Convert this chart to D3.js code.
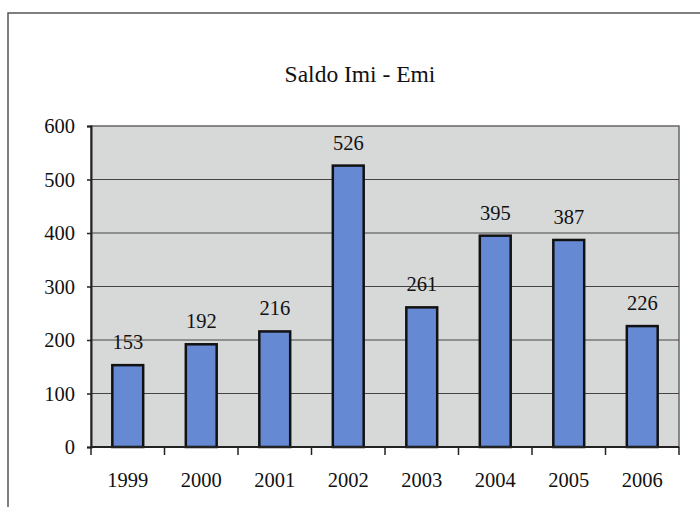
<!DOCTYPE html>
<html>
<head>
<meta charset="utf-8">
<script src="https://cdn.jsdelivr.net/npm/d3@7"></script>
<style>
  body { margin: 0; background: #fff; }
</style>
</head>
<body>
<div class="chart"></div>
<script>
var years = ["1999", "2000", "2001", "2002", "2003", "2004", "2005", "2006"];
var saldo = [153, 192, 216, 526, 261, 395, 387, 226];
var yTicks = [0, 100, 200, 300, 400, 500, 600];

var serif = "'Liberation Serif', 'Times New Roman', Times, serif";

var svgWidth = 700;
var svgHeight = 507;

var margin = { top: 126, right: 21, bottom: 60, left: 91 };
var width = svgWidth - margin.left - margin.right;
var height = svgHeight - margin.top - margin.bottom;

var svg = d3.select(".chart")
  .append("svg")
  .attr("width", svgWidth)
  .attr("height", svgHeight);

// outer frame (top + left edges visible)
svg.append("path")
  .attr("d", "M8,507V13H700")
  .attr("fill", "none")
  .attr("stroke", "#555")
  .attr("stroke-width", 1.5);

svg.append("text")
  .attr("x", 360)
  .attr("y", 82)
  .attr("text-anchor", "middle")
  .attr("font-family", serif)
  .attr("font-size", 23.5)
  .attr("fill", "#111")
  .text("Saldo Imi - Emi");

var chartGroup = svg.append("g")
  .attr("transform", `translate(${margin.left}, ${margin.top})`);

var xScale = d3.scaleBand()
  .domain(years)
  .range([0, width])
  .paddingInner(0.58)
  .paddingOuter(0.29);

var yScale = d3.scaleLinear()
  .domain([0, 600])
  .range([height, 0]);

// plot area
chartGroup.append("rect")
  .attr("width", width)
  .attr("height", height)
  .attr("fill", "#d7d9d9")
  .attr("stroke", "#666")
  .attr("stroke-width", 1.5);

// gridlines
chartGroup.append("g")
  .selectAll("line")
  .data(yTicks.slice(1, -1))
  .enter()
  .append("line")
  .attr("x1", 0)
  .attr("x2", width)
  .attr("y1", d => yScale(d))
  .attr("y2", d => yScale(d))
  .attr("stroke", "#444")
  .attr("stroke-width", 1);

chartGroup.selectAll(".bar")
  .data(saldo)
  .enter()
  .append("rect")
  .classed("bar", true)
  .attr("x", (d, i) => xScale(years[i]))
  .attr("y", d => yScale(d))
  .attr("width", xScale.bandwidth())
  .attr("height", d => height - yScale(d))
  .attr("fill", "#6689d4")
  .attr("stroke", "#111")
  .attr("stroke-width", 2.5);

chartGroup.selectAll(".val")
  .data(saldo)
  .enter()
  .append("text")
  .classed("val", true)
  .attr("x", (d, i) => xScale(years[i]) + xScale.bandwidth() / 2)
  .attr("y", d => yScale(d) - 16)
  .attr("text-anchor", "middle")
  .attr("font-family", serif)
  .attr("font-size", 20.5)
  .attr("fill", "#111")
  .text(d => d);

// y axis
var leftAxis = d3.axisLeft(yScale)
  .tickValues(yTicks)
  .tickSize(4)
  .tickPadding(12);

var yAxis = chartGroup.append("g")
  .call(leftAxis)
  .attr("font-family", serif)
  .attr("font-size", 20.5);
yAxis.select(".domain").attr("stroke", "#222").attr("stroke-width", 2);
yAxis.selectAll(".tick line").attr("stroke", "#222").attr("stroke-width", 1.5);
yAxis.selectAll("text").attr("fill", "#111");

// x axis: ticks between categories
var edges = d3.range(years.length + 1).map(i => i * width / years.length);
var xAxis = chartGroup.append("g")
  .attr("transform", `translate(0, ${height})`);
xAxis.append("line")
  .attr("x1", 0)
  .attr("x2", width)
  .attr("stroke", "#222")
  .attr("stroke-width", 2);
xAxis.selectAll(".xtick")
  .data(edges)
  .enter()
  .append("line")
  .attr("x1", d => d)
  .attr("x2", d => d)
  .attr("y1", 0)
  .attr("y2", 8)
  .attr("stroke", "#222")
  .attr("stroke-width", 1.5);
xAxis.selectAll(".xlab")
  .data(years)
  .enter()
  .append("text")
  .attr("x", d => xScale(d) + xScale.bandwidth() / 2)
  .attr("y", 40)
  .attr("text-anchor", "middle")
  .attr("font-family", serif)
  .attr("font-size", 20.5)
  .attr("fill", "#111")
  .text(d => d);
</script>
</body>
</html>
